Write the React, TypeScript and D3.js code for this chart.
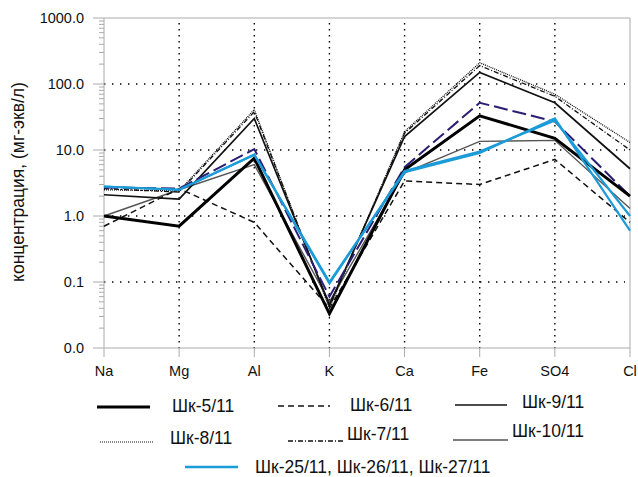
import React, { useEffect, useRef } from 'react'
import * as d3 from 'd3'

// ion names along the x axis
const categories = ['Na', 'Mg', 'Al', 'K', 'Ca', 'Fe', 'SO4', 'Cl']

// concentrations, mg-eq/l, one array per well
const sh5 = [1.0, 0.7, 7.5, 0.033, 5.0, 33, 15, 2.0]
const sh6 = [0.7, 2.6, 0.8, 0.04, 3.4, 3.0, 7.2, 0.8]
const sh9 = [2.1, 1.8, 30, 0.045, 16, 150, 52, 5.2]
const sh8 = [2.5, 2.4, 41, 0.04, 19, 210, 70, 13]
const sh7 = [2.6, 2.3, 38, 0.042, 18, 190, 65, 10]
const sh10 = [1.0, 2.5, 6, 0.05, 4.5, 13.5, 14, 1.3]
const sh25 = [2.8, 2.5, 8.5, 0.095, 4.8, 9.5, 28, 1.0]
const sh26 = [2.8, 2.5, 8.5, 0.1, 4.6, 9.0, 30, 0.6]
const sh27 = [2.7, 2.6, 10.3, 0.06, 5.5, 52, 27, 2.0]

const yTickValues = [1000, 100, 10, 1, 0.1, 0.01]

const FONT = 'Liberation Sans, Arial, sans-serif'

const series = [
  { name: 'Шк-10/11', values: sh10, color: '#555', width: 1.4, dash: null },
  { name: 'Шк-6/11', values: sh6, color: '#111', width: 1.5, dash: '6,4' },
  { name: 'Шк-8/11', values: sh8, color: '#111', width: 1.3, dash: '1,1' },
  { name: 'Шк-7/11', values: sh7, color: '#111', width: 1.3, dash: '5,2,1,2' },
  { name: 'Шк-9/11', values: sh9, color: '#111', width: 1.7, dash: null },
  { name: 'Шк-27/11', values: sh27, color: '#2b1d72', width: 2, dash: '14,5' },
  { name: 'Шк-5/11', values: sh5, color: '#000', width: 3, dash: null },
  { name: 'Шк-25/11', values: sh25, color: '#1b9bd7', width: 2.2, dash: null },
  { name: 'Шк-26/11', values: sh26, color: '#1b9bd7', width: 2.2, dash: null },
]

// legend entries: line sample position and text position
const legendItems = [
  { label: 'Шк-5/11', x1: 97, x2: 150, y: 407, tx: 172, ty: 412, color: '#000', width: 3, dash: null },
  { label: 'Шк-6/11', x1: 278, x2: 330, y: 406, tx: 350, ty: 411, color: '#111', width: 1.5, dash: '6,4' },
  { label: 'Шк-9/11', x1: 455, x2: 507, y: 405, tx: 522, ty: 408, color: '#111', width: 1.6, dash: null },
  { label: 'Шк-8/11', x1: 100, x2: 153, y: 442, tx: 170, ty: 444, color: '#111', width: 1.2, dash: '1,1' },
  { label: 'Шк-7/11', x1: 288, x2: 343, y: 441, tx: 347, ty: 440, color: '#111', width: 1.3, dash: '5,2,1,2' },
  { label: 'Шк-10/11', x1: 453, x2: 508, y: 440, tx: 512, ty: 437, color: '#555', width: 1.4, dash: null },
  { label: 'Шк-25/11, Шк-26/11, Шк-27/11', x1: 185, x2: 238, y: 467, tx: 255, ty: 473, color: '#1b9bd7', width: 2.4, dash: null },
]

export default function App() {
  const ref = useRef<SVGSVGElement>(null)

  useEffect(() => {
    const svg = d3.select(ref.current)
    svg.selectAll('*').remove()

    const left = 104, right = 630, top = 18, bottom = 348

    const x = d3.scalePoint<string>().domain(categories).range([left, right])
    const y = d3.scaleLog().domain([0.01, 1000]).range([bottom, top])

    // dotted grid
    const grid = svg.append('g')
    categories.slice(1, -1).forEach((c) => {
      grid.append('line')
        .attr('x1', x(c)!).attr('x2', x(c)!)
        .attr('y1', top + 5).attr('y2', bottom)
        .attr('stroke', '#000').attr('stroke-width', 1.4)
        .attr('stroke-dasharray', '1.4,4.6')
    })
    yTickValues.filter((v) => v > 0.01 && v < 1000).forEach((v) => {
      grid.append('line')
        .attr('x1', left).attr('x2', right - 5)
        .attr('y1', y(v)).attr('y2', y(v))
        .attr('stroke', '#000').attr('stroke-width', 1.4)
        .attr('stroke-dasharray', '1.4,6.6')
    })

    // frame
    const frame = svg.append('g').attr('stroke', '#aaa').attr('stroke-width', 1)
    frame.append('line').attr('x1', left).attr('x2', right).attr('y1', top).attr('y2', top)
    frame.append('line').attr('x1', right).attr('x2', right).attr('y1', top).attr('y2', bottom)
    frame.append('line').attr('x1', left).attr('x2', right).attr('y1', bottom).attr('y2', bottom)
    frame.append('line').attr('x1', left).attr('x2', left).attr('y1', top).attr('y2', bottom)

    // left axis ticks
    y.ticks().forEach((v) => {
      const major = yTickValues.includes(+v.toPrecision(3))
      frame.append('line')
        .attr('x1', major ? left - 11 : left - 5).attr('x2', left)
        .attr('y1', y(v)).attr('y2', y(v))
    })
    categories.forEach((c) => {
      frame.append('line').attr('x1', x(c)!).attr('x2', x(c)!).attr('y1', bottom).attr('y2', bottom + 9)
    })

    // tick labels
    const fmt = d3.format('.1f')
    svg.append('g').selectAll('text').data(yTickValues).enter().append('text')
      .attr('x', 84).attr('y', (d) => y(d) + 5)
      .attr('text-anchor', 'end')
      .style('font-family', FONT).style('font-size', '14.5px').attr('fill', '#111')
      .text((d) => fmt(d))
    svg.append('g').selectAll('text').data(categories).enter().append('text')
      .attr('x', (d) => x(d)!).attr('y', 376)
      .attr('text-anchor', 'middle')
      .style('font-family', FONT).style('font-size', '14.5px').attr('fill', '#111')
      .text((d) => d)

    svg.append('text')
      .attr('transform', 'translate(24,182) rotate(-90)')
      .attr('text-anchor', 'middle')
      .style('font-family', FONT).style('font-size', '17.5px').attr('fill', '#111')
      .text('концентрация, (мг-экв/л)')

    // series lines
    const line = d3.line<number>()
      .x((_, i) => x(categories[i])!)
      .y((d) => y(d))
    svg.append('g').selectAll('path').data(series).enter().append('path')
      .attr('d', (s) => line(s.values))
      .attr('fill', 'none')
      .attr('stroke', (s) => s.color)
      .attr('stroke-width', (s) => s.width)
      .attr('stroke-dasharray', (s) => s.dash)
      .attr('stroke-linejoin', 'miter')

    // legend
    const lg = svg.append('g')
    legendItems.forEach((d) => {
      lg.append('line')
        .attr('x1', d.x1).attr('x2', d.x2).attr('y1', d.y).attr('y2', d.y)
        .attr('stroke', d.color).attr('stroke-width', d.width)
        .attr('stroke-dasharray', d.dash)
      lg.append('text')
        .attr('x', d.tx).attr('y', d.ty)
        .style('font-family', FONT).style('font-size', '17.5px').attr('fill', '#111')
        .text(d.label)
    })
  }, [])

  return (
    <svg ref={ref} width={638} height={477}
      style={{ position: 'absolute', left: 0, top: 0, background: '#fff' }} />
  )
}
